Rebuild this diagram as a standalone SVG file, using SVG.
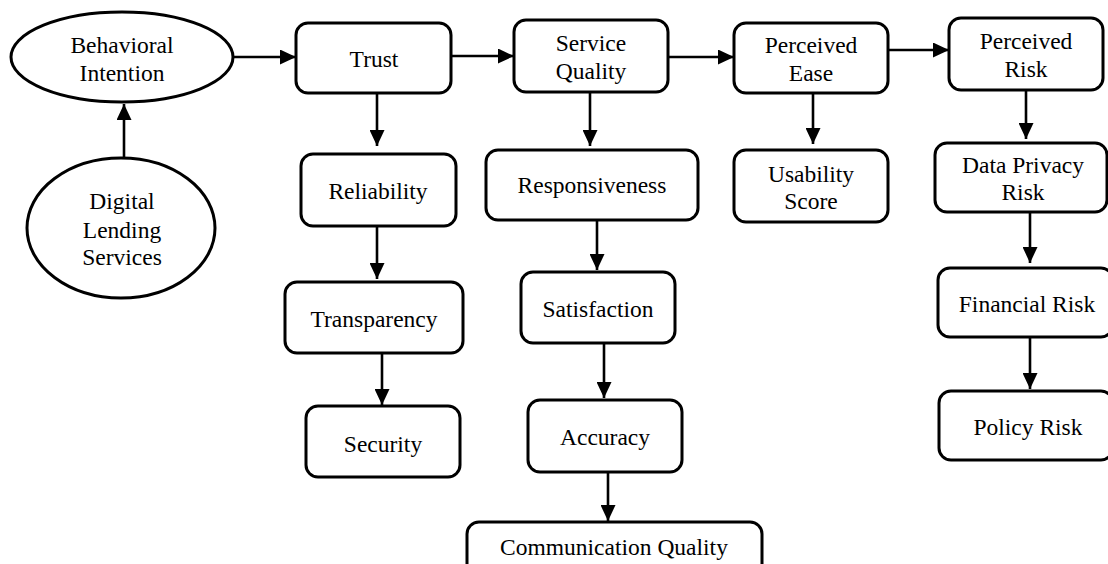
<svg xmlns="http://www.w3.org/2000/svg" width="1108" height="564" viewBox="0 0 1108 564">
<defs>
<style>
.n{fill:#fff;stroke:#000;stroke-width:3}
text{font-family:'Liberation Serif','Times New Roman',Times,'DejaVu Serif',serif;font-size:23.5px;fill:#000;text-anchor:middle}
.c{stroke:#000;stroke-width:2.6;fill:none;marker-end:url(#ah)}
</style>
<marker id="ah" markerUnits="userSpaceOnUse" markerWidth="16" markerHeight="15" refX="16" refY="7.5" orient="auto">
<path d="M0,0 L16,7.5 L0,15 Z" fill="#000"/>
</marker>
</defs>
<rect width="1108" height="564" fill="#fff"/>
<g id="connectors">
<line class="c" x1="124" y1="158" x2="124" y2="104"/>
<line class="c" x1="233" y1="57" x2="296" y2="57"/>
<line class="c" x1="451" y1="56" x2="514" y2="56"/>
<line class="c" x1="668" y1="57" x2="734" y2="57"/>
<line class="c" x1="888" y1="50" x2="949" y2="50"/>
<line class="c" x1="377" y1="93" x2="377" y2="146"/>
<line class="c" x1="377" y1="226" x2="377" y2="279"/>
<line class="c" x1="382" y1="353" x2="382" y2="405"/>
<line class="c" x1="590" y1="92" x2="590" y2="146"/>
<line class="c" x1="597" y1="220" x2="597" y2="270"/>
<line class="c" x1="604" y1="343" x2="604" y2="398"/>
<line class="c" x1="608" y1="472" x2="608" y2="521"/>
<line class="c" x1="813" y1="93" x2="813" y2="144"/>
<line class="c" x1="1026" y1="90" x2="1026" y2="139"/>
<line class="c" x1="1030" y1="212" x2="1030" y2="263"/>
<line class="c" x1="1030" y1="337" x2="1030" y2="389"/>
</g>
<g id="behavioral-intention">
<ellipse class="n" cx="122" cy="57" rx="111" ry="45"/>
<text x="122" y="53">Behavioral</text>
<text x="122" y="81">Intention</text>
</g>
<g id="digital-lending-services">
<ellipse class="n" cx="121" cy="228" rx="94" ry="70"/>
<text x="122" y="209">Digital</text>
<text x="122" y="238">Lending</text>
<text x="122" y="265">Services</text>
</g>
<g id="trust">
<rect class="n" x="296" y="23" width="155" height="70" rx="12"/>
<text x="374" y="67">Trust</text>
</g>
<g id="service-quality">
<rect class="n" x="514" y="20" width="154" height="72" rx="12"/>
<text x="591" y="51">Service</text>
<text x="591" y="79">Quality</text>
</g>
<g id="perceived-ease">
<rect class="n" x="734" y="23" width="154" height="70" rx="12"/>
<text x="811" y="53">Perceived</text>
<text x="811" y="81">Ease</text>
</g>
<g id="perceived-risk">
<rect class="n" x="949" y="18" width="154" height="72" rx="12"/>
<text x="1026" y="49">Perceived</text>
<text x="1026" y="77">Risk</text>
</g>
<g id="reliability">
<rect class="n" x="301" y="154" width="155" height="72" rx="12"/>
<text x="378" y="199">Reliability</text>
</g>
<g id="transparency">
<rect class="n" x="285" y="282" width="178" height="71" rx="12"/>
<text x="374" y="327">Transparency</text>
</g>
<g id="security">
<rect class="n" x="306" y="406" width="154" height="71" rx="12"/>
<text x="383" y="452">Security</text>
</g>
<g id="responsiveness">
<rect class="n" x="486" y="150" width="212" height="70" rx="12"/>
<text x="592" y="193">Responsiveness</text>
</g>
<g id="satisfaction">
<rect class="n" x="521" y="272" width="154" height="71" rx="12"/>
<text x="598" y="317">Satisfaction</text>
</g>
<g id="accuracy">
<rect class="n" x="528" y="400" width="154" height="72" rx="12"/>
<text x="605" y="445">Accuracy</text>
</g>
<g id="communication-quality">
<rect class="n" x="467" y="522" width="295" height="60" rx="12"/>
<text x="614" y="555">Communication Quality</text>
</g>
<g id="usability-score">
<rect class="n" x="734" y="150" width="154" height="72" rx="12"/>
<text x="811" y="182">Usability</text>
<text x="811" y="209">Score</text>
</g>
<g id="data-privacy-risk">
<rect class="n" x="935" y="143" width="172" height="69" rx="12"/>
<text x="1023" y="173">Data Privacy</text>
<text x="1023" y="200">Risk</text>
</g>
<g id="financial-risk">
<rect class="n" x="938" y="268" width="175" height="69" rx="12"/>
<text x="1027" y="312">Financial Risk</text>
</g>
<g id="policy-risk">
<rect class="n" x="939" y="391" width="174" height="69" rx="12"/>
<text x="1028" y="435">Policy Risk</text>
</g>
</svg>
